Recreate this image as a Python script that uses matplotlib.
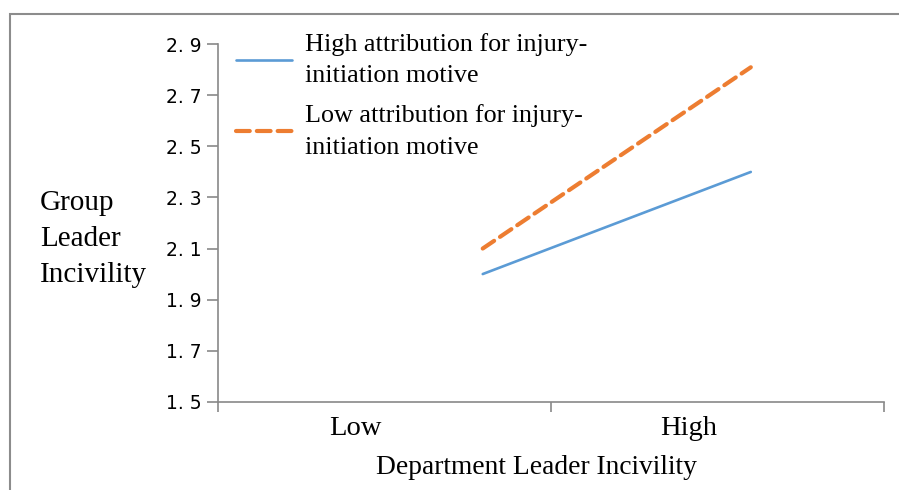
import matplotlib.pyplot as plt
from matplotlib.patches import Rectangle
from matplotlib.ticker import FixedLocator

# categories and tick labels
groups = ["Low", "High"]
group_pos = [0.414, 1.413]
y_ticks = [1.5, 1.7, 1.9, 2.1, 2.3, 2.5, 2.7, 2.9]
y_tick_labels = ["1. 5", "1. 7", "1. 9", "2. 1", "2. 3", "2. 5", "2. 7", "2. 9"]

# series (x positions are in category units, boundaries at 0, 1, 2)
x_pos = [0.795, 1.6]
high_attr = [2.0, 2.4]
low_attr = [2.1, 2.81]

series_names = ["High attribution for injury-\ninitiation motive",
                "Low attribution for injury-\ninitiation motive"]

W, H = 899, 490
axis_grey = "#898989"
serif = ["Liberation Serif", "DejaVu Serif"]

fig = plt.figure(figsize=(W / 100, H / 100), dpi=100)
ax = fig.add_axes([218 / W, 1 - 401.7 / H, 666 / W, (401.7 - 44.3) / H])

ax.plot(x_pos, high_attr, color="#5B9BD5", lw=1.9, solid_capstyle="round",
        label=series_names[0])
ax.plot(x_pos, low_attr, color="#ED7D31", lw=3.0, dashes=(3.3, 1.7),
        dash_capstyle="round", label=series_names[1])

ax.set_xlim(0, 2)
ax.set_ylim(1.5, 2.9)

for side in ["top", "right"]:
    ax.spines[side].set_visible(False)
for side in ["left", "bottom"]:
    ax.spines[side].set_color(axis_grey)
    ax.spines[side].set_linewidth(1.2)

ax.set_yticks(y_ticks)
ax.set_yticklabels(y_tick_labels, fontfamily="DejaVu Sans", fontsize=13.5)
ax.tick_params(axis="y", length=8, width=1.2, color=axis_grey, pad=4)

ax.set_xticks([0, 1, 2])
ax.set_xticklabels([])
ax.tick_params(axis="x", which="major", length=7, width=1.2, color=axis_grey)
ax.xaxis.set_minor_locator(FixedLocator(group_pos))
ax.set_xticklabels(groups, minor=True, fontfamily=serif, fontsize=20.5)
ax.tick_params(axis="x", which="minor", length=0, pad=10)

leg = ax.legend(loc="upper left", bbox_to_anchor=(236 / W, 1 - 33 / H),
                bbox_transform=fig.transFigure, frameon=False,
                prop={"family": serif, "size": 18.8},
                borderpad=0, borderaxespad=0, handlelength=2.15,
                handletextpad=0.5, labelspacing=0.65)
for t in leg.get_texts():
    t.set_linespacing(1.55)

fig.text(40 / W, 1 - 239 / H, "Group\nLeader\nIncivility", ha="left", va="center",
         fontfamily=serif, fontsize=21, linespacing=1.5)
fig.text(536 / W, 1 - 467 / H, "Department Leader Incivility", ha="center",
         va="center", fontfamily=serif, fontsize=19.8)

# outer chart frame
fig.add_artist(Rectangle((10 / W, -0.2), 1.2, 1.2 - 14 / H, transform=fig.transFigure,
                         fill=False, ec="#8c8c8c", lw=1.5))

fig.savefig("out.png", dpi=100)
